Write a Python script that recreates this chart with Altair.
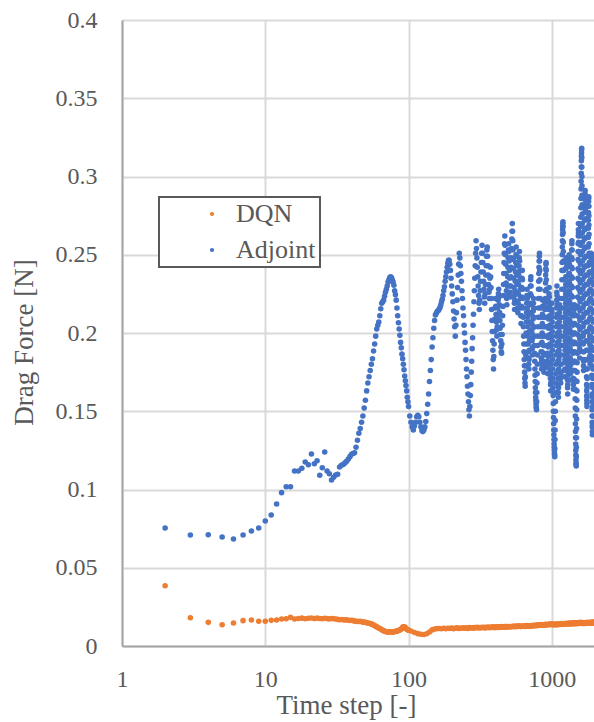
import altair as alt
import pandas as pd

# ------------------------------------------------------------------
# Data (drag force in mN)
# Each segment: first time step, step between samples, values
# ------------------------------------------------------------------
adjoint_a = [  # t = 2 .. 100, every step
    75.4, 70.9, 71.1, 69.6, 68.4, 70.9, 73.5, 75.4, 79.9, 83.7,
    90.7, 98.0, 101.8, 101.8, 111.8, 111.8, 113.5, 117.6, 115.8, 122.7,
    116.5, 118.4, 109.1, 113.9, 124.0, 111.8, 110.1, 106.1, 107.8, 109.3,
    109.7, 114.4, 115.5, 116.0, 117.0, 118.0, 119.5, 121.0, 122.5, 123.0,
    123.5, 127.0, 131.5, 136.0, 139.0, 143.0, 147.0, 152.0, 157.0, 163.0,
    168.0, 172.0, 176.0, 180.0, 183.5, 188.5, 193.0, 198.0, 202.5, 205.0,
    207.0, 211.0, 215.5, 219.0, 220.0, 221.0, 223.5, 226.0, 228.0, 230.0,
    232.5, 234.0, 235.5, 236.0, 235.5, 234.0, 232.5, 230.5, 227.0, 224.5,
    221.0, 216.0, 211.0, 206.5, 202.5, 198.5, 194.0, 190.5, 186.5, 183.5,
    180.0, 176.5, 172.5, 169.5, 166.5, 163.0, 159.0, 156.0, 153.0,
]
adjoint_b = [  # t = 102 .. 192, every 2 steps
    147, 143, 140, 138, 140.5, 143, 146.5, 147.5, 146.5, 143,
    140, 137.5, 137, 138, 140, 143.5, 148.5, 154.5, 161, 169,
    176, 183, 191, 197, 203, 208, 211.5, 212.5, 213.5, 214,
    214.5, 215.5, 216.5, 218, 220, 221.5, 224, 227, 229.5, 233,
    236, 239, 242, 244.5, 246.5, 246.5,
]
adjoint_c = [  # t = 194 .. 500, every 2 steps
    244, 240, 235, 230, 225, 220, 214, 209, 204, 198,
    205, 213, 221, 229, 237, 244, 251,
    248, 243, 238, 233, 227, 222, 216, 211, 205, 200, 194, 189, 183, 177, 172, 166, 161, 156, 151, 147,
    153, 160, 167, 175, 182, 190, 197, 205, 212, 220, 227, 235, 243, 251, 259,
    254, 248, 242, 236, 230, 224, 219, 215, 221, 227, 233, 239, 245, 251, 256,
    251, 245, 239, 233, 228, 223, 219, 225, 231, 237, 243, 249, 253, 255,
    249, 243, 237, 231, 226, 222, 228, 235, 242,
    236, 229, 222, 215, 208, 201, 195, 189, 183, 177,
    185, 193, 201, 209, 216, 222, 217, 212, 207, 202, 198, 204, 210, 216, 221, 225, 228,
    223, 218, 213, 208, 203, 199, 195, 191, 188, 187, 193, 199, 205, 211, 217,
    224, 231, 238, 245, 251, 257, 262, 256, 250, 244, 238, 232, 227, 222, 218,
    224, 230, 236, 242, 248, 253, 257,
]
adjoint_d = [  # t = 502 .. 2000, every 2 steps
    252, 246, 240, 235, 230, 226, 223, 230, 236, 242, 248, 254, 260, 265, 270,
    265, 259, 253, 247, 241, 235, 229, 224, 219, 215, 221, 227, 233, 239, 245,
    250, 255, 249, 243, 237, 231, 225, 220, 216, 213,
    219, 225, 231, 237, 243, 248, 252, 246, 240, 234, 228, 222, 216, 211, 206,
    211, 217, 223, 229, 235, 240, 234, 228, 222, 216, 210, 204, 198, 193, 188,
    183, 179, 175, 171, 168, 166,
    172, 179, 186, 193, 200, 207, 213, 219, 224, 228, 222, 216, 210, 204, 198,
    193, 188, 184, 180, 177, 183, 189, 195, 201, 207, 213, 219, 225, 230, 234,
    236, 230, 224, 218, 212, 206, 200, 195, 190, 186, 191, 197, 203, 209, 214,
    219, 222, 216, 210, 204, 198, 192, 187, 182, 177, 173, 169, 165, 162, 159,
    157, 155, 153, 152, 151, 156, 162, 168, 174,
    180, 186, 192, 198, 204, 210, 216, 222, 228, 233, 238, 242, 246, 249, 251,
    246, 240, 234, 228, 222, 216, 210, 204, 198, 193, 188, 184, 180, 177, 182,
    188, 194, 200, 206, 212, 217, 221, 216, 210, 204, 198, 192, 187, 182, 178,
    175, 180, 186, 192, 198, 204, 210, 215, 219, 222,
    227, 232, 237, 241, 244, 245, 240, 234, 228, 222, 216, 210, 204, 198, 192,
    187, 182, 178, 174, 179, 185, 191, 197, 203, 209, 215, 220, 225, 229, 223,
    217, 211, 205, 199, 193, 187, 181, 176, 171, 167, 163, 168, 174, 180, 186,
    192, 198, 204, 210, 215, 219, 213, 207, 201, 195, 189, 183, 177, 171, 165,
    160, 155, 150, 146, 142, 138, 135, 132, 129, 127, 125, 123, 122, 121, 126,
    132, 138, 144,
    150, 156, 162, 168, 174, 180, 186, 192, 198, 204, 210, 216, 221, 226, 230,
    224, 218, 212, 206, 200, 194, 188, 182, 176, 171, 166, 162, 159, 165, 171,
    177, 183, 189, 195, 201, 207, 213, 218, 222, 216, 210, 204, 198, 192, 186,
    180, 175, 171, 168, 174, 180, 186, 192, 198, 204, 210, 216, 222, 228, 234,
    240, 245, 250, 255, 259, 263, 266, 268, 270, 271, 268, 264,
    258, 252, 246, 240, 234, 228, 222, 216, 210, 204, 198, 192, 186, 181, 176,
    172, 177, 183, 189, 195, 201, 207, 213, 219, 225, 231, 236, 241, 245, 248,
    242, 236, 230, 224, 218, 212, 206, 200, 194, 188, 182, 176, 170, 165, 161,
    167, 173, 179, 185, 191, 197, 203, 209, 215, 221, 227, 233, 238, 243, 247,
    250, 244, 238, 232, 226, 220, 214, 208, 202, 196, 190, 184, 179, 174, 170,
    176, 182, 188, 194, 200, 206, 212, 218, 224, 230, 236, 242, 248, 253, 257,
    259, 253, 247, 241, 235, 229, 223, 217, 211, 205, 199, 193, 187, 181, 176,
    171, 167, 164, 170, 176, 182, 188, 194, 200, 206, 211, 215, 218, 212, 206,
    200, 194, 188, 182, 176, 170, 164, 158, 152, 147, 142, 137, 133, 129, 125,
    122, 119, 117, 116, 115,
    121, 127, 133, 139, 145, 151, 157, 163, 169, 175, 181, 187, 193, 199, 205,
    211, 217, 223, 229, 235, 241, 247, 252, 257, 262, 266, 270, 264, 258, 252,
    246, 240, 234, 228, 222, 216, 210, 204, 198, 193, 188, 184, 190, 196, 202,
    208, 214, 220, 226, 232, 238, 244, 250, 256, 262, 268, 274, 280, 286, 292,
    297, 302, 306, 310, 313, 315, 317, 318, 312, 306, 300, 294, 288, 282, 276,
    270, 264, 258, 252, 246, 240, 234, 228, 222, 216, 210, 204, 198, 193, 188,
    183, 179, 176, 182, 188, 194, 200, 206, 212, 218, 224, 230, 236, 242, 248,
    254, 260, 266, 272, 277, 282, 286, 289, 291, 285, 279, 273, 267, 261, 255,
    249, 243, 237, 231, 225, 219, 213, 207, 201, 195, 189, 183, 177, 172, 167,
    163, 160, 157, 155, 153, 159, 165, 171, 177, 183, 189, 195, 201, 207, 213,
    219, 225, 231, 237, 243, 249, 255, 261, 267, 272, 277, 281, 284, 286, 287,
    281, 275, 269, 263, 257, 251, 245, 239, 233, 227, 221, 215, 209, 203, 198,
    193, 189, 185, 182, 180,
    186, 192, 198, 204, 210, 216, 222, 228, 234, 239, 244, 248, 251, 245, 239,
    233, 227, 221, 215, 209, 203, 197, 191, 185, 179, 173, 167, 161, 156, 151,
    147, 143, 140, 137, 135, 141, 147, 153, 159, 165, 171, 177, 183, 189, 195,
    201, 207, 213, 219, 225, 231, 236, 241, 245, 248, 250, 244, 238, 232, 226,
    220, 214, 208, 202, 196, 190, 184, 178, 172, 167, 163, 160, 158, 157, 157,
]

dqn_a = [  # t = 2 .. 100, every step
    38.5, 18.1, 15.1, 13.6, 14.7, 16.2, 16.6, 15.8, 15.8, 16.4, 16.6, 17.3, 17.4, 18.3,
    17.2, 17.6, 17.8, 17.4, 17.7, 17.9, 17.5, 17.8, 17.6, 17.4, 17.7, 17.5, 17.3, 17.6,
    17.4, 17.2, 17.0, 16.8,
    16.9, 16.7, 16.6, 16.8, 16.5, 16.3, 16.4, 16.2, 16.0, 15.8, 15.7, 15.6, 15.8, 15.5,
    15.4, 15.2, 15.1,
    14.9, 14.7, 14.5, 14.3, 14.1, 13.8, 13.4, 13.0, 12.6, 12.2,
    11.8, 11.5, 11.2, 10.8, 10.4, 10.0, 9.7, 9.4, 9.2, 9.1, 9.0, 8.9, 8.9, 9.0, 9.1,
    9.1, 9.0, 9.0, 9.1, 9.2, 9.3, 9.4, 9.6, 9.8, 9.9, 10.0, 10.2, 10.5, 10.9, 11.4,
    11.9, 12.2, 12.3, 12.1, 11.7, 11.2, 10.8, 10.5, 10.3, 10.1,
]
dqn_b = [  # t = 104 .. 500, every 6 steps
    9.6, 8.6, 7.9, 7.5, 7.4, 7.8, 8.9, 10.3, 10.9, 11.1,
    11.2, 11.0, 11.3, 11.1, 11.4, 11.2, 11.5, 11.1, 11.4, 11.6,
    11.2, 11.5, 11.3, 11.7, 11.4, 11.6, 11.2, 11.8, 11.5, 11.7,
    11.3, 11.8, 11.6, 11.9, 11.5, 11.8, 11.6, 12.0, 11.7, 11.9,
    11.5, 12.0, 11.8, 12.1, 11.7, 12.0, 11.8, 12.2, 11.9, 12.1,
    11.7, 12.2, 12.0, 12.3, 11.9, 12.2, 12.0, 12.4, 12.1, 12.3,
    12.0, 12.4, 12.2, 12.5, 12.1, 12.4, 12.2,
]
dqn_c = [  # t = 510 .. 1990, every 10 steps
    12.5, 12.2, 12.6, 12.4, 12.7, 12.3, 12.8, 12.5, 12.9, 12.6,
    12.4, 12.8, 12.6, 12.9, 12.5, 12.8, 13.0, 12.6, 12.9, 12.7,
    13.0, 12.7, 13.1, 12.8, 13.2, 12.9, 13.1, 13.4, 13.0, 13.3,
    13.5, 13.2, 13.6, 13.3, 13.7, 13.4, 13.6, 13.2, 13.5, 13.8,
    13.4, 13.7, 13.5, 13.9, 13.6, 13.8, 14.1, 13.7, 14.0, 13.8,
    13.6, 14.0, 13.7, 13.5, 13.9, 13.6, 14.0, 13.8, 13.5, 13.9,
    13.7, 14.1, 13.8, 14.2, 13.9, 14.3, 14.0, 13.8, 14.2, 14.0,
    14.3, 13.9, 14.2, 14.4, 14.0, 14.3, 14.1, 14.5, 14.2, 14.4,
    14.0, 14.3, 14.6, 14.2, 14.5, 14.1, 14.4, 14.7, 14.3, 14.5,
    14.2, 14.6, 14.3, 14.8, 14.4, 14.6, 14.2, 14.5, 14.9, 14.4,
    14.7, 14.3, 14.6, 15.0, 14.5, 14.8, 14.4, 14.7, 15.1, 14.6,
    14.8, 14.4, 14.7, 15.0, 14.5, 14.8, 14.3, 14.7, 14.9, 14.5,
    14.4, 14.8, 15.0, 14.6, 14.9, 14.5, 14.8, 15.1, 14.6, 14.9,
    14.5, 14.9, 14.6, 15.0, 14.7, 15.2, 14.6, 14.9, 15.2, 14.8,
    15.1, 14.7, 15.0, 15.3, 14.8, 15.1, 14.7, 15.0, 14.9,
]

series_names = ["DQN", "Adjoint"]
series_colors = ["#ED7D31", "#4472C4"]

segments = [
    ("DQN", 2, 1, dqn_a), ("DQN", 104, 6, dqn_b), ("DQN", 510, 10, dqn_c),
    ("Adjoint", 2, 1, adjoint_a), ("Adjoint", 102, 2, adjoint_b),
    ("Adjoint", 194, 2, adjoint_c), ("Adjoint", 502, 2, adjoint_d),
]
rows = []
for name, start, step, vals in segments:
    for i, v in enumerate(vals):
        rows.append({"t": start + step * i, "drag": v / 1000.0, "series": name})
df = pd.DataFrame(rows)

FONT = "Liberation Serif"
TXT = "#595959"
nbsp = "\u00a0" * 4

chart = alt.Chart(df).mark_circle(size=31, opacity=1).encode(
    x=alt.X("t:Q",
            scale=alt.Scale(type="log", domain=[1, 1970]),
            axis=alt.Axis(values=[1, 10, 100, 1000], format="d",
                          title="Time step [-]", labelFlush=False,
                          labelPadding=40, labelBaseline="alphabetic",
                          titleX=224, titleY=67, titleBaseline="alphabetic",
                          titleAlign="center")),
    y=alt.Y("drag:Q",
            scale=alt.Scale(domain=[0, 0.4]),
            axis=alt.Axis(values=[0, 0.05, 0.1, 0.15, 0.2, 0.25, 0.3, 0.35, 0.4],
                          format=".2~f", title="Drag Force [N]",
                          labelPadding=25, titleAngle=270, titleX=-90, titleY=322,
                          titleBaseline="alphabetic", titleAlign="center")),
    color=alt.Color("series:N",
                    scale=alt.Scale(domain=series_names, range=series_colors),
                    legend=alt.Legend(title=None, orient="none", legendX=37, legendY=177,
                                      direction="vertical", padding=4, symbolOffset=36,
                                      labelOffset=11, rowPadding=10, symbolType="circle",
                                      symbolSize=18, strokeColor="#595959",
                                      fillColor="white", labelFont=FONT,
                                      labelFontSize=26, labelColor=TXT,
                                      labelExpr="datum.label + '" + nbsp + "'")),
).properties(
    width=472, height=626,
    autosize=alt.AutoSizeParams(type="none"),
    padding={"left": 122, "top": 20, "right": 0, "bottom": 76},
).configure_view(
    stroke=None
).configure_axis(
    domainColor="#a6a6a6", domainWidth=2, ticks=False, tickSize=0,
    gridColor="#d9d9d9", gridWidth=2,
    labelFont=FONT, labelFontSize=24, labelColor=TXT,
    titleFont=FONT, titleFontSize=27, titleFontWeight="normal", titleColor=TXT,
).configure_legend(
    strokeWidth=2
)

chart.save("out.html", embed_options={"renderer": "svg", "actions": False})
